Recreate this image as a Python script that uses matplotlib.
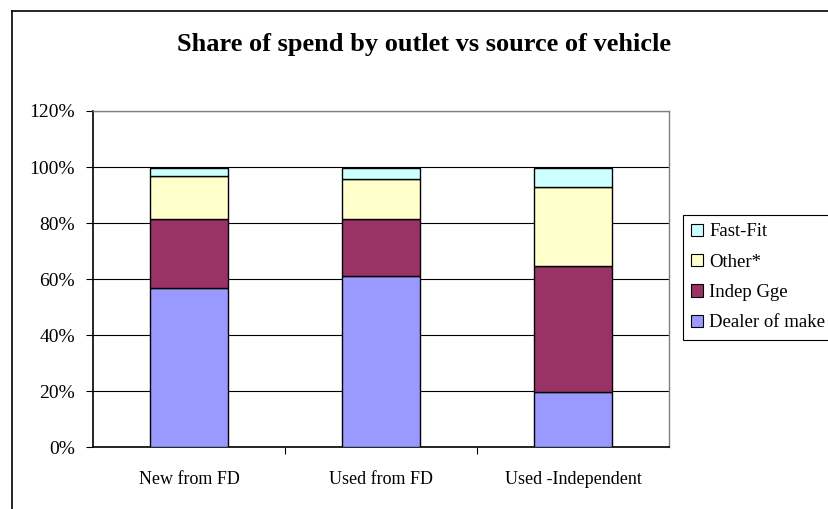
import matplotlib
matplotlib.use('Agg')
import matplotlib.pyplot as plt
import numpy as np
from matplotlib.lines import Line2D
from matplotlib.patches import Patch
from matplotlib.ticker import PercentFormatter

plt.rcParams['font.family'] = ['Liberation Serif', 'DejaVu Serif']

categories = ['New from FD', 'Used from FD', 'Used -Independent']
series_names = ['Dealer of make', 'Indep Gge', 'Other*', 'Fast-Fit']
dealer = [56.7, 61.0, 19.5]
indep = [24.8, 20.5, 45.1]
other = [15.2, 14.2, 28.3]
fast_fit = [2.9, 3.9, 6.7]
colours = ['#9999FF', '#993366', '#FFFFCC', '#CCFFFF']

W, H = 829, 509
fig = plt.figure(figsize=(W / 100, H / 100), dpi=100)
ax = fig.add_axes([93 / W, 62 / H, 576 / W, 336 / H])

x = np.arange(len(categories))
bottom = np.zeros(len(categories))
for vals, c in zip([dealer, indep, other, fast_fit], colours):
    v = np.array(vals) / 100
    ax.bar(x, v, width=0.41, bottom=bottom, color=c, edgecolor='black', linewidth=1.0, zorder=3)
    bottom += v

ax.set_xlim(-0.5, 2.5)
ax.set_ylim(0, 1.2)
ax.set_yticks(np.arange(0, 1.21, 0.2))
ax.yaxis.set_major_formatter(PercentFormatter(1.0, decimals=0))
ax.yaxis.grid(True, color='black', linewidth=0.8, zorder=0)
ax.set_axisbelow(True)

ax.set_xticks(x)
ax.set_xticklabels(categories)
ax.set_xticks([0.5, 1.5], minor=True)
ax.tick_params(axis='x', which='major', length=0, pad=17, labelsize=13)
ax.tick_params(axis='x', which='minor', length=5, width=0.8, direction='out')
ax.tick_params(axis='y', length=5, width=0.8, pad=8, labelsize=14)

for side in ['left', 'bottom']:
    ax.spines[side].set_color('black')
    ax.spines[side].set_linewidth(1.2)
for side in ['top', 'right']:
    ax.spines[side].set_color('#808080')
    ax.spines[side].set_linewidth(1.0)

fig.text(424.5 / W, 1 - 45 / H, 'Share of spend by outlet vs source of vehicle',
         ha='center', va='center', fontsize=19, fontweight='bold')

# outer chart border (right and bottom are cut off)
fig.add_artist(Line2D([12 / W, 12 / W], [1 - 11 / H, 0], color='black', linewidth=1.2))
fig.add_artist(Line2D([12 / W, 1], [1 - 11 / H, 1 - 11 / H], color='black', linewidth=1.2))

handles = [Patch(facecolor=c, edgecolor='black', linewidth=0.8) for c in colours]
leg = fig.legend(handles[::-1], series_names[::-1], loc='upper left',
                 bbox_to_anchor=(683 / W, 1 - 215 / H), fontsize=13.5,
                 handlelength=0.64, handleheight=0.64, handletextpad=0.3,
                 labelspacing=0.71, borderpad=0.45, borderaxespad=0,
                 fancybox=False, framealpha=1)
leg.get_frame().set_edgecolor('black')
leg.get_frame().set_linewidth(0.8)

fig.savefig('out.png', dpi=100)
